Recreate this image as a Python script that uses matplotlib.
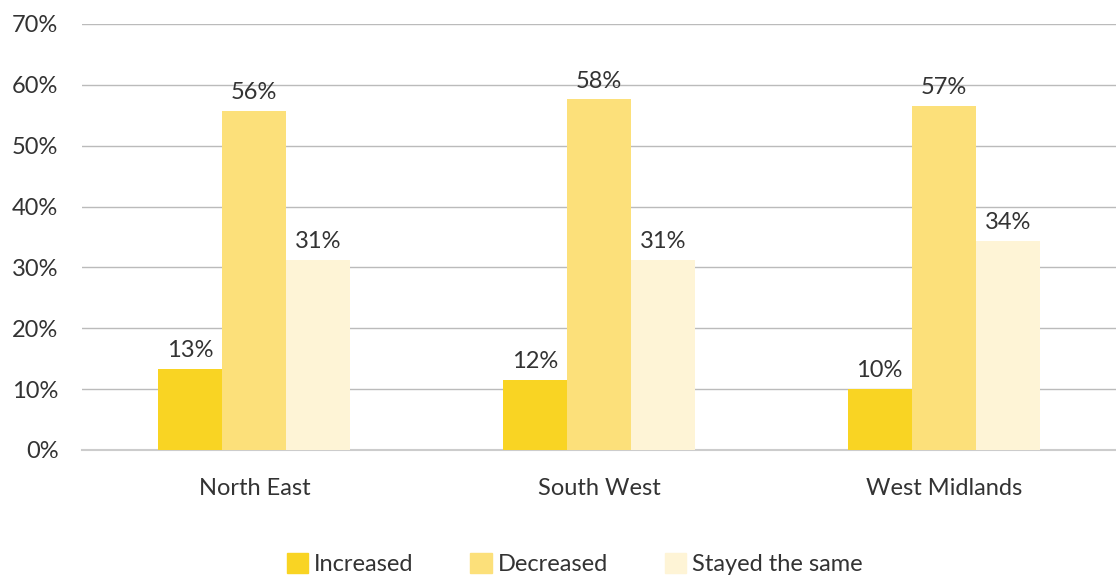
import numpy as np
import matplotlib
matplotlib.use("Agg")
from matplotlib import pyplot as plt
from matplotlib.patches import Patch

regions = ["North East", "South West", "West Midlands"]
increased = [13.3, 11.5, 10.0]
decreased = [55.7, 57.6, 56.6]
stayed = [31.2, 31.2, 34.3]
series_names = ["Increased", "Decreased", "Stayed the same"]
colours = ["#F9D423", "#FCE07A", "#FEF4D6"]

plt.rcParams['font.family'] = ['Lato', 'DejaVu Sans']
text_col = "#333333"

fig = plt.figure(figsize=(11.16, 5.81), dpi=100)
ax = fig.add_axes([82 / 1116, 131 / 581, 1 - 82 / 1116, 426 / 581])

x = np.arange(len(regions))
w = 0.186
for i, (vals, col) in enumerate(zip([increased, decreased, stayed], colours)):
    bars = ax.bar(x + (i - 1) * w, vals, w, color=col, zorder=3)
    for b, v in zip(bars, vals):
        ax.text(b.get_x() + b.get_width() / 2, v + 1.3, "%d%%" % round(v),
                ha="center", va="bottom", fontsize=17, color=text_col)

ax.set_xlim(-0.5, 2.5)
ax.set_ylim(0, 70)
ax.set_yticks(range(0, 71, 10))
ax.set_yticklabels(["%d%%" % t for t in range(0, 71, 10)])
ax.set_xticks(x)
ax.set_xticklabels(regions)
ax.tick_params(axis="both", length=0, labelsize=17, colors=text_col)
ax.tick_params(axis="y", pad=17)
ax.tick_params(axis="x", pad=20)
ax.grid(axis="y", color="#BBBBBB", linewidth=1, zorder=0)
for s in ["top", "right", "left"]:
    ax.spines[s].set_visible(False)
ax.spines["bottom"].set_color("#CCCCCC")
ax.spines["bottom"].set_linewidth(1.5)

handles = [Patch(color=c) for c in colours]
fig.legend(handles, series_names, loc="center", bbox_to_anchor=(0.515, 0.029),
           ncol=3, frameon=False, fontsize=17, handlelength=0.9, handleheight=0.9,
           handletextpad=0.25, columnspacing=2.4, labelcolor=text_col)

fig.savefig("out.png", dpi=100)
